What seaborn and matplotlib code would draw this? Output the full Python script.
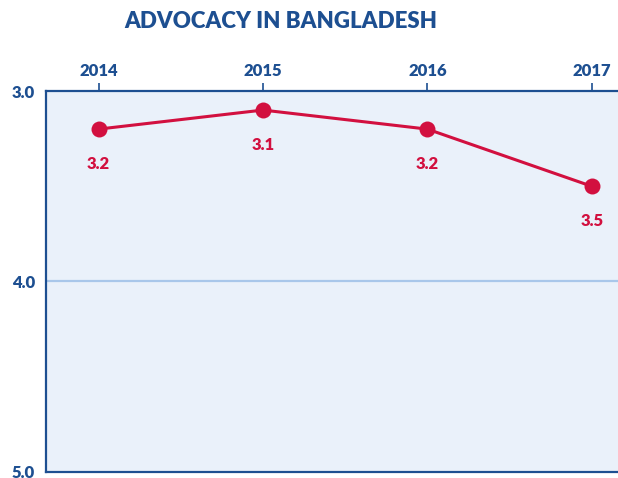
import matplotlib
matplotlib.use("Agg")
import matplotlib.pyplot as plt
import seaborn as sns
import pandas as pd

# chart data
years = [2014, 2015, 2016, 2017]
scores = [3.2, 3.1, 3.2, 3.5]
score_labels = ["3.2", "3.1", "3.2", "3.5"]
y_ticks = [3.0, 4.0, 5.0]
y_tick_labels = ["3.0", "4.0", "5.0"]

navy = "#1d4f91"
crimson = "#d2103f"

sns.set_theme(style="white")
plt.rcParams['font.family'] = ['Lato', 'DejaVu Sans']

df = pd.DataFrame({"year": years, "score": scores})

fig = plt.figure(figsize=(6.18, 4.78), dpi=100)
ax = fig.add_axes([0.0744, 0.0126, 0.9256, 0.797])
ax.set_facecolor("#eaf1fa")

ax.axhline(4.0, color="#a9c7ea", lw=1.6, zorder=1)

sns.lineplot(data=df, x="year", y="score", ax=ax, color=crimson, lw=2.2,
             marker="o", markersize=11.5, markeredgewidth=0, zorder=3)

for yr, sc, lab in zip(years, scores, score_labels):
    ax.annotate(lab, (yr, sc), xytext=(0, -25), textcoords="offset points",
                ha="center", va="center", color=crimson, fontsize=12,
                fontweight="heavy")

ax.set_xlim(2013.68, 2017.16)
ax.set_ylim(5.0, 3.0)
ax.set_xticks(years)
ax.set_xticklabels([str(y) for y in years])
ax.set_yticks(y_ticks)
ax.set_yticklabels(y_tick_labels)
ax.xaxis.tick_top()
ax.tick_params(axis="x", direction="out", length=6, width=1.2, color=navy,
               labelsize=12, labelcolor=navy, pad=3, top=True, bottom=False)
ax.tick_params(axis="y", length=0, labelsize=12, labelcolor=navy, pad=8)
for lab in ax.get_xticklabels() + ax.get_yticklabels():
    lab.set_fontweight("heavy")
ax.set_xlabel("")
ax.set_ylabel("")

for side in ["left", "top", "bottom"]:
    ax.spines[side].set_color(navy)
    ax.spines[side].set_linewidth(1.6)
ax.spines["right"].set_visible(False)

fig.text(0.455, 0.955, "ADVOCACY IN BANGLADESH", ha="center", va="center",
         color=navy, fontsize=16, fontweight="heavy")

fig.savefig("out.png", dpi=100)
